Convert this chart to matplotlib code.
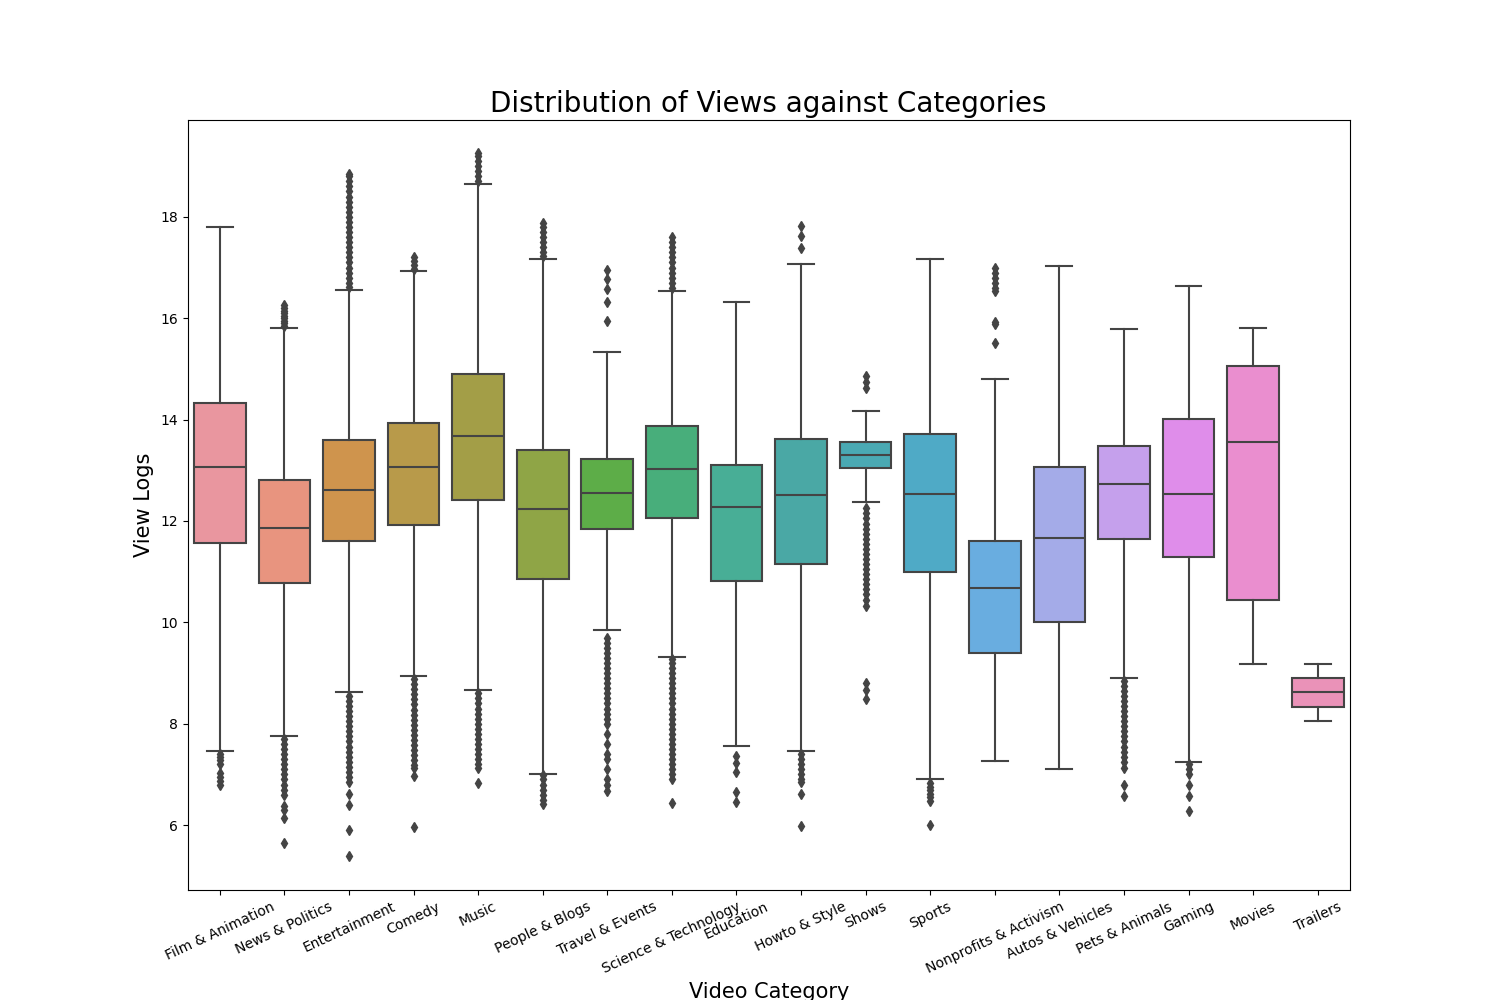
import numpy as np
import matplotlib
matplotlib.use("Agg")
import matplotlib.pyplot as plt

# categories in plotting order
categories = ["Film & Animation", "News & Politics", "Entertainment", "Comedy", "Music",
              "People & Blogs", "Travel & Events", "Science & Technology", "Education",
              "Howto & Style", "Shows", "Sports", "Nonprofits & Activism", "Autos & Vehicles",
              "Pets & Animals", "Gaming", "Movies", "Trailers"]

# box stats (log of views)
whislo = [7.46, 7.75, 8.63, 8.94, 8.67, 7.01, 9.85, 9.32, 7.57, 7.46, 12.37, 6.91, 7.26, 7.10, 8.90, 7.24, 9.18, 8.05]
q1 = [11.57, 10.78, 11.60, 11.92, 12.41, 10.86, 11.84, 12.05, 10.82, 11.16, 13.04, 11.00, 9.39, 10.01, 11.65, 11.29, 10.45, 8.33]
med = [13.07, 11.86, 12.61, 13.07, 13.68, 12.24, 12.56, 13.03, 12.28, 12.52, 13.31, 12.54, 10.68, 11.67, 12.73, 12.54, 13.56, 8.63]
q3 = [14.33, 12.81, 13.59, 13.93, 14.90, 13.40, 13.23, 13.87, 13.10, 13.62, 13.56, 13.72, 11.60, 13.07, 13.48, 14.01, 15.06, 8.90]
whishi = [17.80, 15.81, 16.56, 16.94, 18.65, 17.17, 15.34, 16.54, 16.31, 17.07, 14.17, 17.17, 14.80, 17.03, 15.79, 16.64, 15.81, 9.18]

# outliers per category
outliers = [
    [7.40, 7.35, 7.28, 7.20, 7.02, 6.95, 6.88, 6.80],
    [15.85, 15.9, 15.95, 16.0, 16.05, 16.1, 16.15, 16.2, 16.27,
     7.7, 7.6, 7.5, 7.4, 7.3, 7.2, 7.1, 7.0, 6.9, 6.8, 6.7, 6.6, 6.38, 6.29, 6.14, 5.64],
    [16.62, 16.7, 16.8, 16.9, 17.0, 17.1, 17.2, 17.3, 17.4, 17.5, 17.6, 17.7, 17.8, 17.9,
     18.0, 18.1, 18.2, 18.3, 18.4, 18.5, 18.6, 18.7, 18.8, 18.85,
     8.55, 8.45, 8.35, 8.25, 8.15, 8.05, 7.95, 7.85, 7.75, 7.65, 7.55, 7.45, 7.35, 7.25,
     7.15, 7.05, 6.95, 6.85, 6.62, 6.40, 5.90, 5.40],
    [16.98, 17.05, 17.12, 17.2,
     8.88, 8.78, 8.68, 8.58, 8.48, 8.38, 8.28, 8.18, 8.08, 7.98, 7.88, 7.78, 7.68, 7.58,
     7.48, 7.38, 7.28, 7.18, 7.13, 6.96, 5.96],
    [18.7, 18.8, 18.9, 19.0, 19.1, 19.2, 19.25,
     8.6, 8.5, 8.4, 8.3, 8.2, 8.1, 8.0, 7.9, 7.8, 7.7, 7.6, 7.5, 7.4, 7.3, 7.2, 7.13, 6.83],
    [17.22, 17.3, 17.4, 17.5, 17.6, 17.7, 17.8, 17.87,
     6.98, 6.9, 6.8, 6.7, 6.6, 6.5, 6.42],
    [15.94, 16.31, 16.58, 16.77, 16.96,
     9.7, 9.6, 9.5, 9.4, 9.3, 9.2, 9.1, 9.0, 8.9, 8.8, 8.7, 8.6, 8.5, 8.4, 8.3, 8.2, 8.1,
     8.0, 7.8, 7.6, 7.4, 7.3, 7.1, 6.9, 6.8, 6.68],
    [16.6, 16.7, 16.8, 16.9, 17.0, 17.1, 17.2, 17.3, 17.4, 17.5, 17.6,
     9.28, 9.2, 9.1, 9.0, 8.9, 8.8, 8.7, 8.6, 8.5, 8.4, 8.3, 8.2, 8.1, 8.0, 7.9, 7.8, 7.7,
     7.6, 7.5, 7.4, 7.3, 7.2, 7.1, 7.0, 6.9, 6.43],
    [7.36, 7.22, 7.04, 6.66, 6.45],
    [17.38, 17.63, 17.81,
     7.4, 7.3, 7.2, 7.1, 7.0, 6.9, 6.85, 6.62, 5.99],
    [14.63, 14.75, 14.86,
     12.25, 12.15, 12.05, 11.95, 11.85, 11.75, 11.65, 11.55, 11.45, 11.35, 11.25, 11.15,
     11.05, 10.95, 10.85, 10.75, 10.65, 10.55, 10.45, 10.32, 8.81, 8.67, 8.48],
    [6.83, 6.75, 6.7, 6.62, 6.55, 6.48, 6.01],
    [15.51, 15.89, 15.92, 16.54, 16.6, 16.7, 16.8, 16.9, 17.0],
    [],
    [8.85, 8.75, 8.65, 8.55, 8.45, 8.35, 8.25, 8.15, 8.05, 7.95, 7.85, 7.75, 7.65, 7.55,
     7.45, 7.35, 7.25, 7.13, 6.80, 6.57],
    [7.2, 7.1, 7.0, 6.80, 6.57, 6.27],
    [],
    [],
]

colors = ["#E9969F", "#E8947F", "#CF944D", "#B89A4A", "#A39E47", "#8FA546", "#5DAD48",
          "#48AE7B", "#48AE96", "#4AA8A5", "#4AA9B3", "#4FAAC6", "#69ADE0", "#A4ABE8",
          "#C5A0EC", "#DF8DEA", "#EA8ECF", "#EA92B8"]

stats = []
for i in range(len(categories)):
    stats.append({"label": categories[i], "whislo": whislo[i], "q1": q1[i], "med": med[i],
                  "q3": q3[i], "whishi": whishi[i], "fliers": outliers[i]})

gray = "#444444"
fig, ax = plt.subplots(figsize=(15, 10), dpi=100)
bp = ax.bxp(stats, positions=np.arange(len(categories)), widths=0.8, patch_artist=True,
            boxprops=dict(edgecolor=gray, linewidth=1.5),
            medianprops=dict(color=gray, linewidth=1.5),
            whiskerprops=dict(color=gray, linewidth=1.5),
            capprops=dict(color=gray, linewidth=1.5),
            flierprops=dict(marker="d", markerfacecolor=gray, markeredgecolor=gray,
                            markersize=5, linestyle="none"))
for patch, c in zip(bp["boxes"], colors):
    patch.set_facecolor(c)

ax.set_xlim(-0.5, len(categories) - 0.5)
ax.set_ylim(4.72, 19.91)
ax.set_xticks(np.arange(len(categories)))
ax.set_xticklabels(categories, rotation=25)
ax.set_title("Distribution of Views against Categories", fontsize=20)
ax.set_xlabel("Video Category", fontsize=15)
ax.set_ylabel("View Logs", fontsize=15)

plt.savefig("out.png")
